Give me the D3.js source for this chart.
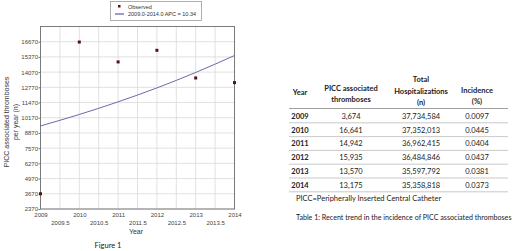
<!DOCTYPE html>
<html>
<head>
<meta charset="utf-8">
<script src="https://cdn.jsdelivr.net/npm/d3@7/dist/d3.min.js"></script>
<style>
html,body{margin:0;padding:0;background:#fff;}
svg{display:block;}
</style>
</head>
<body>
<svg id="c" width="520" height="251"></svg>
<script>
// ---- data ----
const years = [2009, 2010, 2011, 2012, 2013, 2014];
const observed = [3674, 16641, 14942, 15935, 13570, 13175];
const fitted = [9470, 10450, 11530, 12720, 14040, 15490]; // APC = 10.34 model line
const yTicks = [2370, 3670, 4970, 6270, 7570, 8870, 10170, 11470, 12770, 14070, 15370, 16670];
const xTicks = [2009, 2009.5, 2010, 2010.5, 2011, 2011.5, 2012, 2012.5, 2013, 2013.5, 2014];
const tableHospital = ["37,734,584", "37,352,013", "36,962,415", "36,484,846", "35,597,792", "35,358,818"];
const tableIncidence = ["0.0097", "0.0445", "0.0404", "0.0437", "0.0381", "0.0373"];
const tableThromb = ["3,674", "16,641", "14,942", "15,935", "13,570", "13,175"];

const svg = d3.select("#c");
const L = 40.5, R = 234.5, T = 26.5, B = 209;
const x = d3.scaleLinear().domain([2009, 2014]).range([L, R]);
const y = d3.scaleLinear().domain([2370, 17970]).range([B, T]);

// grid
const g = svg.append("g");
g.selectAll(".vg").data(xTicks).enter().append("line")
  .attr("x1", d => x(d)).attr("x2", d => x(d)).attr("y1", T).attr("y2", B)
  .attr("stroke", "#d9d9d9").attr("stroke-width", 0.8);
g.selectAll(".hg").data(yTicks).enter().append("line")
  .attr("x1", L).attr("x2", R).attr("y1", d => y(d)).attr("y2", d => y(d))
  .attr("stroke", "#d9d9d9").attr("stroke-width", 0.8);
// frame
g.append("rect").attr("x", L).attr("y", T).attr("width", R - L).attr("height", B - T)
  .attr("fill", "none").attr("stroke", "#7a7a7a").attr("stroke-width", 1);

// y axis
const ya = svg.append("g").attr("transform", `translate(${L},0)`)
  .call(d3.axisLeft(y).tickValues(yTicks).tickSize(2).tickFormat(d3.format("d")));
ya.select(".domain").remove();
ya.selectAll("line").attr("stroke", "#7a7a7a");
ya.selectAll("text").attr("font-family", "Liberation Sans, Arial, sans-serif")
  .attr("font-size", 6).attr("fill", "#444").attr("x", -2.5);

// x axis labels, alternating rows
const xa = svg.append("g").attr("transform", `translate(0,${B})`)
  .call(d3.axisBottom(x).tickValues(xTicks).tickSize(0).tickFormat(d => String(d)));
xa.select(".domain").remove();
xa.selectAll("text").attr("font-family", "Liberation Sans, Arial, sans-serif")
  .attr("font-size", 6).attr("fill", "#444")
  .attr("y", d => Number.isInteger(d) ? 4 : 12);

// model line
svg.append("path").datum(years.map((yr, i) => [yr, fitted[i]]))
  .attr("d", d3.line().x(d => x(d[0])).y(d => y(d[1])).curve(d3.curveMonotoneX))
  .attr("fill", "none").attr("stroke", "#6a6aa8").attr("stroke-width", 1);

// observed points
svg.selectAll(".pt").data(years.map((yr, i) => [yr, observed[i]])).enter().append("rect")
  .attr("x", d => x(d[0]) - 1.5).attr("y", d => y(d[1]) - 1.5)
  .attr("width", 3).attr("height", 3).attr("fill", "#5a0c1c");

// axis titles
svg.append("text").attr("x", 136).attr("y", 233.5).attr("text-anchor", "middle")
  .attr("font-family", "Liberation Sans, Arial, sans-serif").attr("font-size", 7).attr("fill", "#333").text("Year");
const yt = svg.append("text").attr("transform", "translate(9,122) rotate(-90)").attr("text-anchor", "middle")
  .attr("font-family", "Liberation Sans, Arial, sans-serif").attr("font-size", 7).attr("fill", "#333");
yt.append("tspan").attr("x", 0).attr("dy", 0).text("PICC associated thromboses");
yt.append("tspan").attr("x", 0).attr("dy", 9).text("per year (n)");
svg.append("text").attr("x", 108).attr("y", 247.5).attr("text-anchor", "middle")
  .attr("font-family", "Lato, Open Sans, sans-serif").attr("font-size", 7.5).attr("fill", "#222").text("Figure 1");

// legend
svg.append("rect").attr("x", 110.5).attr("y", 1.5).attr("width", 91).attr("height", 19)
  .attr("fill", "#fff").attr("stroke", "#999").attr("stroke-width", 0.8);
svg.append("rect").attr("x", 118).attr("y", 5).attr("width", 2.5).attr("height", 2.5).attr("fill", "#5a0c1c");
svg.append("line").attr("x1", 115).attr("x2", 124).attr("y1", 14).attr("y2", 14)
  .attr("stroke", "#3a3a8a").attr("stroke-width", 1);
svg.append("text").attr("x", 128).attr("y", 8.5).attr("font-family", "Liberation Sans, Arial, sans-serif")
  .attr("font-size", 5.5).attr("fill", "#333").text("Observed");
svg.append("text").attr("x", 128).attr("y", 16).attr("font-family", "Liberation Sans, Arial, sans-serif")
  .attr("font-size", 5.5).attr("fill", "#333").text("2009.0-2014.0 APC  = 10.34");

// table
const tf = "Lato, Open Sans, sans-serif";
const cols = [300, 351, 421, 477];
const tx = svg.append("g").attr("font-family", tf).attr("font-size", 7.5).attr("fill", "#222");
const hdr = [["Year"], ["PICC associated", "thromboses"], ["Total", "Hospitalizations", "(n)"], ["Incidence", "(%)"]];
const hdrY = [[92], [88, 99], [79, 91, 102], [90, 101]];
hdr.forEach((lines, c) => lines.forEach((t, k) => {
  tx.append("text").attr("x", cols[c]).attr("y", hdrY[c][k] + 2.7).attr("text-anchor", "middle")
    .attr("font-weight", "bold").text(t);
}));
const rowY = d3.scaleLinear().domain([0, 5]).range([116, 185]);
const lineX1 = 289, lineX2 = 508;
tx.append("line").attr("x1", lineX1).attr("x2", lineX2).attr("y1", 108.5).attr("y2", 108.5).attr("stroke", "#888").attr("stroke-width", 0.8);
years.forEach((yr, i) => {
  const yy = rowY(i) + 2.7;
  tx.append("text").attr("x", cols[0]).attr("y", yy).attr("text-anchor", "middle").attr("font-weight", "bold").text(yr);
  tx.append("text").attr("x", cols[1]).attr("y", yy).attr("text-anchor", "middle").text(tableThromb[i]);
  tx.append("text").attr("x", cols[2]).attr("y", yy).attr("text-anchor", "middle").text(tableHospital[i]);
  tx.append("text").attr("x", cols[3]).attr("y", yy).attr("text-anchor", "middle").text(tableIncidence[i]);
  tx.append("line").attr("x1", lineX1).attr("x2", lineX2).attr("y1", rowY(i) + 6.8).attr("y2", rowY(i) + 6.8)
    .attr("stroke", "#bbb").attr("stroke-width", 0.8);
});
tx.append("text").attr("x", 296).attr("y", 200.5).text("PICC=Peripherally Inserted Central Catheter");
const cap = tx.append("text").attr("x", 296).attr("y", 220).text("Table 1: Recent trend in the incidence of PICC associated thromboses");
// keep the caption within the page (target right edge ~513)
const w = cap.node().getComputedTextLength();
if (w > 216) cap.attr("font-size", 7.5 * 216 / w);
</script>
</body>
</html>
